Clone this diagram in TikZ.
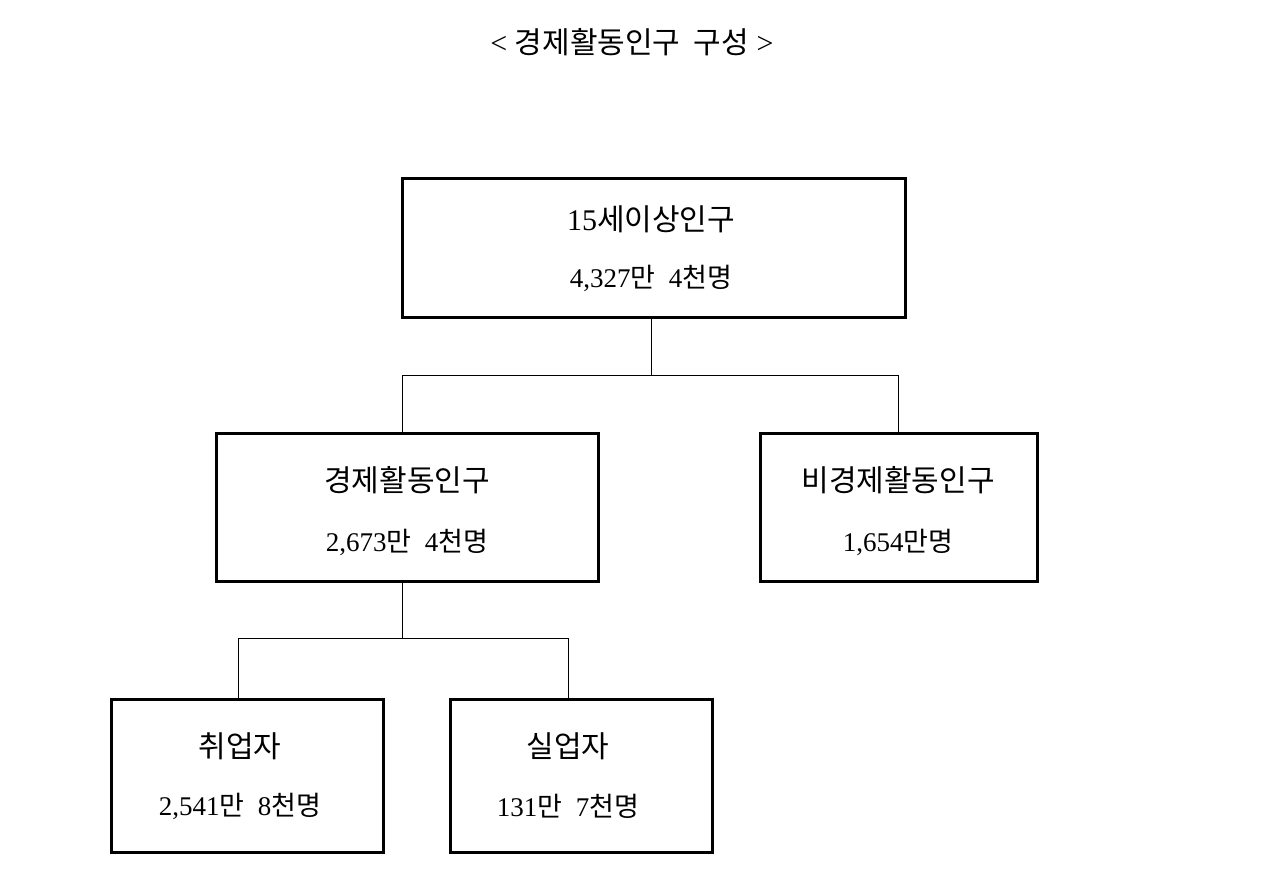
\documentclass[tikz,border=0pt]{standalone}
\usepackage{fontspec}
\setmainfont{Liberation Serif}
\newfontfamily\kr{Noto Sans CJK KR}
\begin{document}
\begin{tikzpicture}[x=1pt,y=-1pt,
  box/.style={draw,line width=3pt,inner sep=0pt},
  ln/.style={line width=1pt},
  big/.style={font=\fontsize{30}{36}\selectfont},
  sm/.style={font=\fontsize{27}{32}\selectfont}]
\useasboundingbox[fill=white] (0,0) rectangle (1280,887);
\node[font=\fontsize{30}{36}\selectfont] (title) at (632,42) {<\ {\kr 경제활동인구\ \ 구성}\ >};
\draw[box] (402,178) rectangle (905,317);
\draw[box] (216,433) rectangle (598,581);
\draw[box] (760,433) rectangle (1037,581);
\draw[box] (111,699) rectangle (383,852);
\draw[box] (450,699) rectangle (712,852);
\coordinate (t) at (651,318.5);
\coordinate (tj) at (651,375);
\coordinate (l) at (402,375);
\coordinate (r) at (898,375);
\coordinate (lb) at (402,431.5);
\coordinate (rb) at (898,431.5);
\coordinate (m) at (402,582.5);
\coordinate (mj) at (402,638);
\coordinate (bl) at (238,638);
\coordinate (br) at (568,638);
\coordinate (blb) at (238,697.5);
\coordinate (brb) at (568,697.5);
\draw[ln] (t) -- (tj) (l) -- (r) (l) -- (lb) (r) -- (rb);
\draw[ln] (m) -- (mj) (bl) -- (br) (bl) -- (blb) (br) -- (brb);
\node[big] (a1) at (651,219) {15{\kr 세이상인구}};
\node[sm] (a2) at (651,278) {4,327{\kr 만}\ \ 4{\kr 천명}};
\node[big] (b1) at (407,480) {\kr 경제활동인구};
\node[sm] (b2) at (407,542) {2,673{\kr 만}\ \ 4{\kr 천명}};
\node[big] (c1) at (898,480) {\kr 비경제활동인구};
\node[sm] (c2) at (898,542) {1,654{\kr 만명}};
\node[big] (d1) at (240,746) {\kr 취업자};
\node[sm] (d2) at (240,806) {2,541{\kr 만}\ \ 8{\kr 천명}};
\node[big] (e1) at (568,746) {\kr 실업자};
\node[sm] (e2) at (568,806) {131{\kr 만}\ \ 7{\kr 천명}};
\end{tikzpicture}
\end{document}
